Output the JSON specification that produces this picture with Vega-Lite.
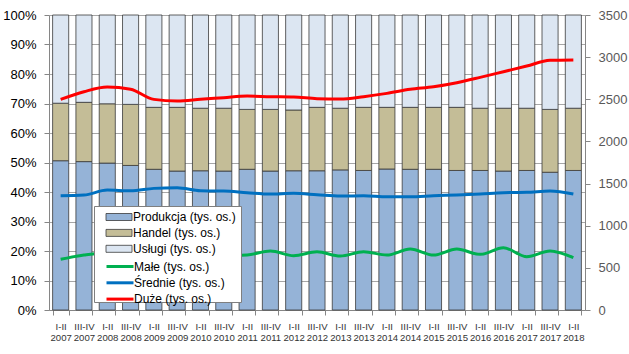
{
  "$schema": "https://vega.github.io/schema/vega-lite/v6.json",
  "width": 536,
  "height": 295,
  "autosize": "none",
  "padding": {"left": 49, "top": 15, "right": 44, "bottom": 44},
  "background": "white",
  "config": {"view": {"stroke": null}, "font": "Liberation Sans"},
  "datasets": {
    "bars": [
      {"p": "I-II 2007", "s": "Produkcja (tys. os.)", "v": 50.6, "r": 1}, {"p": "I-II 2007", "s": "Handel (tys. os.)", "v": 19.5, "r": 2}, {"p": "I-II 2007", "s": "Usługi (tys. os.)", "v": 29.9, "r": 3},
      {"p": "III-IV 2007", "s": "Produkcja (tys. os.)", "v": 50.3, "r": 1}, {"p": "III-IV 2007", "s": "Handel (tys. os.)", "v": 20.1, "r": 2}, {"p": "III-IV 2007", "s": "Usługi (tys. os.)", "v": 29.6, "r": 3},
      {"p": "I-II 2008", "s": "Produkcja (tys. os.)", "v": 49.8, "r": 1}, {"p": "I-II 2008", "s": "Handel (tys. os.)", "v": 20.1, "r": 2}, {"p": "I-II 2008", "s": "Usługi (tys. os.)", "v": 30.1, "r": 3},
      {"p": "III-IV 2008", "s": "Produkcja (tys. os.)", "v": 49.0, "r": 1}, {"p": "III-IV 2008", "s": "Handel (tys. os.)", "v": 20.7, "r": 2}, {"p": "III-IV 2008", "s": "Usługi (tys. os.)", "v": 30.3, "r": 3},
      {"p": "I-II 2009", "s": "Produkcja (tys. os.)", "v": 47.7, "r": 1}, {"p": "I-II 2009", "s": "Handel (tys. os.)", "v": 21.0, "r": 2}, {"p": "I-II 2009", "s": "Usługi (tys. os.)", "v": 31.3, "r": 3},
      {"p": "III-IV 2009", "s": "Produkcja (tys. os.)", "v": 47.1, "r": 1}, {"p": "III-IV 2009", "s": "Handel (tys. os.)", "v": 21.6, "r": 2}, {"p": "III-IV 2009", "s": "Usługi (tys. os.)", "v": 31.3, "r": 3},
      {"p": "I-II 2010", "s": "Produkcja (tys. os.)", "v": 47.2, "r": 1}, {"p": "I-II 2010", "s": "Handel (tys. os.)", "v": 21.2, "r": 2}, {"p": "I-II 2010", "s": "Usługi (tys. os.)", "v": 31.6, "r": 3},
      {"p": "III-IV 2010", "s": "Produkcja (tys. os.)", "v": 47.1, "r": 1}, {"p": "III-IV 2010", "s": "Handel (tys. os.)", "v": 21.3, "r": 2}, {"p": "III-IV 2010", "s": "Usługi (tys. os.)", "v": 31.6, "r": 3},
      {"p": "I-II 2011", "s": "Produkcja (tys. os.)", "v": 47.7, "r": 1}, {"p": "I-II 2011", "s": "Handel (tys. os.)", "v": 20.3, "r": 2}, {"p": "I-II 2011", "s": "Usługi (tys. os.)", "v": 32.0, "r": 3},
      {"p": "III-IV 2011", "s": "Produkcja (tys. os.)", "v": 47.1, "r": 1}, {"p": "III-IV 2011", "s": "Handel (tys. os.)", "v": 20.9, "r": 2}, {"p": "III-IV 2011", "s": "Usługi (tys. os.)", "v": 32.0, "r": 3},
      {"p": "I-II 2012", "s": "Produkcja (tys. os.)", "v": 47.2, "r": 1}, {"p": "I-II 2012", "s": "Handel (tys. os.)", "v": 20.6, "r": 2}, {"p": "I-II 2012", "s": "Usługi (tys. os.)", "v": 32.2, "r": 3},
      {"p": "III-IV 2012", "s": "Produkcja (tys. os.)", "v": 47.2, "r": 1}, {"p": "III-IV 2012", "s": "Handel (tys. os.)", "v": 21.5, "r": 2}, {"p": "III-IV 2012", "s": "Usługi (tys. os.)", "v": 31.3, "r": 3},
      {"p": "I-II 2013", "s": "Produkcja (tys. os.)", "v": 47.5, "r": 1}, {"p": "I-II 2013", "s": "Handel (tys. os.)", "v": 20.9, "r": 2}, {"p": "I-II 2013", "s": "Usługi (tys. os.)", "v": 31.6, "r": 3},
      {"p": "III-IV 2013", "s": "Produkcja (tys. os.)", "v": 47.3, "r": 1}, {"p": "III-IV 2013", "s": "Handel (tys. os.)", "v": 21.4, "r": 2}, {"p": "III-IV 2013", "s": "Usługi (tys. os.)", "v": 31.3, "r": 3},
      {"p": "I-II 2014", "s": "Produkcja (tys. os.)", "v": 47.8, "r": 1}, {"p": "I-II 2014", "s": "Handel (tys. os.)", "v": 20.9, "r": 2}, {"p": "I-II 2014", "s": "Usługi (tys. os.)", "v": 31.3, "r": 3},
      {"p": "III-IV 2014", "s": "Produkcja (tys. os.)", "v": 47.7, "r": 1}, {"p": "III-IV 2014", "s": "Handel (tys. os.)", "v": 21.0, "r": 2}, {"p": "III-IV 2014", "s": "Usługi (tys. os.)", "v": 31.3, "r": 3},
      {"p": "I-II 2015", "s": "Produkcja (tys. os.)", "v": 47.7, "r": 1}, {"p": "I-II 2015", "s": "Handel (tys. os.)", "v": 21.0, "r": 2}, {"p": "I-II 2015", "s": "Usługi (tys. os.)", "v": 31.3, "r": 3},
      {"p": "III-IV 2015", "s": "Produkcja (tys. os.)", "v": 47.3, "r": 1}, {"p": "III-IV 2015", "s": "Handel (tys. os.)", "v": 21.4, "r": 2}, {"p": "III-IV 2015", "s": "Usługi (tys. os.)", "v": 31.3, "r": 3},
      {"p": "I-II 2016", "s": "Produkcja (tys. os.)", "v": 47.3, "r": 1}, {"p": "I-II 2016", "s": "Handel (tys. os.)", "v": 21.1, "r": 2}, {"p": "I-II 2016", "s": "Usługi (tys. os.)", "v": 31.6, "r": 3},
      {"p": "III-IV 2016", "s": "Produkcja (tys. os.)", "v": 47.1, "r": 1}, {"p": "III-IV 2016", "s": "Handel (tys. os.)", "v": 21.3, "r": 2}, {"p": "III-IV 2016", "s": "Usługi (tys. os.)", "v": 31.6, "r": 3},
      {"p": "I-II 2017", "s": "Produkcja (tys. os.)", "v": 47.3, "r": 1}, {"p": "I-II 2017", "s": "Handel (tys. os.)", "v": 21.1, "r": 2}, {"p": "I-II 2017", "s": "Usługi (tys. os.)", "v": 31.6, "r": 3},
      {"p": "III-IV 2017", "s": "Produkcja (tys. os.)", "v": 46.7, "r": 1}, {"p": "III-IV 2017", "s": "Handel (tys. os.)", "v": 21.3, "r": 2}, {"p": "III-IV 2017", "s": "Usługi (tys. os.)", "v": 32.0, "r": 3},
      {"p": "I-II 2018", "s": "Produkcja (tys. os.)", "v": 47.3, "r": 1}, {"p": "I-II 2018", "s": "Handel (tys. os.)", "v": 21.1, "r": 2}, {"p": "I-II 2018", "s": "Usługi (tys. os.)", "v": 31.6, "r": 3}
    ],
    "lines": [
      {"p": "I-II 2007", "s": "Małe (tys. os.)", "v": 601}, {"p": "I-II 2007", "s": "Średnie (tys. os.)", "v": 1356}, {"p": "I-II 2007", "s": "Duże (tys. os.)", "v": 2499},
      {"p": "III-IV 2007", "s": "Małe (tys. os.)", "v": 652}, {"p": "III-IV 2007", "s": "Średnie (tys. os.)", "v": 1364}, {"p": "III-IV 2007", "s": "Duże (tys. os.)", "v": 2590},
      {"p": "I-II 2008", "s": "Małe (tys. os.)", "v": 680}, {"p": "I-II 2008", "s": "Średnie (tys. os.)", "v": 1423}, {"p": "I-II 2008", "s": "Duże (tys. os.)", "v": 2645},
      {"p": "III-IV 2008", "s": "Małe (tys. os.)", "v": 650}, {"p": "III-IV 2008", "s": "Średnie (tys. os.)", "v": 1415}, {"p": "III-IV 2008", "s": "Duże (tys. os.)", "v": 2618},
      {"p": "I-II 2009", "s": "Małe (tys. os.)", "v": 660}, {"p": "I-II 2009", "s": "Średnie (tys. os.)", "v": 1443}, {"p": "I-II 2009", "s": "Duże (tys. os.)", "v": 2499},
      {"p": "III-IV 2009", "s": "Małe (tys. os.)", "v": 640}, {"p": "III-IV 2009", "s": "Średnie (tys. os.)", "v": 1451}, {"p": "III-IV 2009", "s": "Duże (tys. os.)", "v": 2480},
      {"p": "I-II 2010", "s": "Małe (tys. os.)", "v": 660}, {"p": "I-II 2010", "s": "Średnie (tys. os.)", "v": 1415}, {"p": "I-II 2010", "s": "Duże (tys. os.)", "v": 2499},
      {"p": "III-IV 2010", "s": "Małe (tys. os.)", "v": 645}, {"p": "III-IV 2010", "s": "Średnie (tys. os.)", "v": 1411}, {"p": "III-IV 2010", "s": "Duże (tys. os.)", "v": 2519},
      {"p": "I-II 2011", "s": "Małe (tys. os.)", "v": 652}, {"p": "I-II 2011", "s": "Średnie (tys. os.)", "v": 1392}, {"p": "I-II 2011", "s": "Duże (tys. os.)", "v": 2538},
      {"p": "III-IV 2011", "s": "Małe (tys. os.)", "v": 700}, {"p": "III-IV 2011", "s": "Średnie (tys. os.)", "v": 1376}, {"p": "III-IV 2011", "s": "Duże (tys. os.)", "v": 2531},
      {"p": "I-II 2012", "s": "Małe (tys. os.)", "v": 644}, {"p": "I-II 2012", "s": "Średnie (tys. os.)", "v": 1384}, {"p": "I-II 2012", "s": "Duże (tys. os.)", "v": 2527},
      {"p": "III-IV 2012", "s": "Małe (tys. os.)", "v": 690}, {"p": "III-IV 2012", "s": "Średnie (tys. os.)", "v": 1368}, {"p": "III-IV 2012", "s": "Duże (tys. os.)", "v": 2507},
      {"p": "I-II 2013", "s": "Małe (tys. os.)", "v": 640}, {"p": "I-II 2013", "s": "Średnie (tys. os.)", "v": 1352}, {"p": "I-II 2013", "s": "Duże (tys. os.)", "v": 2503},
      {"p": "III-IV 2013", "s": "Małe (tys. os.)", "v": 692}, {"p": "III-IV 2013", "s": "Średnie (tys. os.)", "v": 1356}, {"p": "III-IV 2013", "s": "Duże (tys. os.)", "v": 2531},
      {"p": "I-II 2014", "s": "Małe (tys. os.)", "v": 652}, {"p": "I-II 2014", "s": "Średnie (tys. os.)", "v": 1344}, {"p": "I-II 2014", "s": "Duże (tys. os.)", "v": 2570},
      {"p": "III-IV 2014", "s": "Małe (tys. os.)", "v": 723}, {"p": "III-IV 2014", "s": "Średnie (tys. os.)", "v": 1344}, {"p": "III-IV 2014", "s": "Duże (tys. os.)", "v": 2618},
      {"p": "I-II 2015", "s": "Małe (tys. os.)", "v": 652}, {"p": "I-II 2015", "s": "Średnie (tys. os.)", "v": 1356}, {"p": "I-II 2015", "s": "Duże (tys. os.)", "v": 2649},
      {"p": "III-IV 2015", "s": "Małe (tys. os.)", "v": 723}, {"p": "III-IV 2015", "s": "Średnie (tys. os.)", "v": 1364}, {"p": "III-IV 2015", "s": "Duże (tys. os.)", "v": 2697},
      {"p": "I-II 2016", "s": "Małe (tys. os.)", "v": 660}, {"p": "I-II 2016", "s": "Średnie (tys. os.)", "v": 1376}, {"p": "I-II 2016", "s": "Duże (tys. os.)", "v": 2760},
      {"p": "III-IV 2016", "s": "Małe (tys. os.)", "v": 739}, {"p": "III-IV 2016", "s": "Średnie (tys. os.)", "v": 1392}, {"p": "III-IV 2016", "s": "Duże (tys. os.)", "v": 2827},
      {"p": "I-II 2017", "s": "Małe (tys. os.)", "v": 633}, {"p": "I-II 2017", "s": "Średnie (tys. os.)", "v": 1396}, {"p": "I-II 2017", "s": "Duże (tys. os.)", "v": 2894},
      {"p": "III-IV 2017", "s": "Małe (tys. os.)", "v": 700}, {"p": "III-IV 2017", "s": "Średnie (tys. os.)", "v": 1411}, {"p": "III-IV 2017", "s": "Duże (tys. os.)", "v": 2962},
      {"p": "I-II 2018", "s": "Małe (tys. os.)", "v": 621}, {"p": "I-II 2018", "s": "Średnie (tys. os.)", "v": 1376}, {"p": "I-II 2018", "s": "Duże (tys. os.)", "v": 2966}
    ]
  },
  "layer": [
    {
      "data": {"name": "bars"},
      "mark": {"type": "bar", "stroke": "#3a3a3a", "strokeWidth": 0.8},
      "encoding": {
        "x": {
          "field": "p", "type": "nominal",
          "scale": {"domain": ["I-II 2007", "III-IV 2007", "I-II 2008", "III-IV 2008", "I-II 2009", "III-IV 2009", "I-II 2010", "III-IV 2010", "I-II 2011", "III-IV 2011", "I-II 2012", "III-IV 2012", "I-II 2013", "III-IV 2013", "I-II 2014", "III-IV 2014", "I-II 2015", "III-IV 2015", "I-II 2016", "III-IV 2016", "I-II 2017", "III-IV 2017", "I-II 2018"], "paddingInner": 0.31, "paddingOuter": 0.155},
          "axis": {"title": null, "labelAngle": 0, "labelExpr": "split(datum.label, ' ')", "labelFont": "Liberation Sans", "labelFontSize": 9.6, "labelLineHeight": 11.7, "labelColor": "#333333", "labelPadding": 6, "labelOverlap": false, "labelBound": false, "tickBand": "extent", "tickSize": 5, "tickColor": "#868686", "domainColor": "#868686", "grid": false}
        },
        "y": {
          "field": "v", "type": "quantitative", "stack": "normalize",
          "scale": {"domain": [0, 1]},
          "axis": {"title": null, "values": [0, 0.1, 0.2, 0.3, 0.4, 0.5, 0.6, 0.7, 0.8, 0.9, 1], "format": ".0%", "grid": true, "gridColor": "#A6A6A6", "gridWidth": 1, "domainColor": "#868686", "tickColor": "#868686", "tickSize": 5, "labelPadding": 8, "labelFont": "Liberation Sans", "labelFontSize": 13, "labelColor": "#000000"}
        },
        "color": {
          "field": "s", "type": "nominal",
          "scale": {"domain": ["Produkcja (tys. os.)", "Handel (tys. os.)", "Usługi (tys. os.)"], "range": ["#95B3D7", "#C4BD97", "#DCE6F2"]},
          "legend": {
            "title": ["\u00a0", "\u00a0", "\u00a0"], "titleOrient": "bottom", "titleFontSize": 12, "titleLineHeight": 14, "titlePadding": 3,
            "orient": "none", "legendX": 45, "legendY": 191,
            "fillColor": "white", "strokeColor": "#7F7F7F", "padding": 5,
            "labelFont": "Liberation Sans", "labelFontSize": 12, "labelColor": "#000000", "labelLimit": 200,
            "rowPadding": 3.9, "symbolSize": 100, "labelOffset": 22,
            "symbolType": "M0.2,-0.7H5.4V0.7H0.2Z", "symbolStrokeColor": "#3a3a3a", "symbolStrokeWidth": 0.8
          }
        },
        "order": {"field": "r", "type": "quantitative"}
      }
    },
    {
      "data": {"name": "lines"},
      "mark": {"type": "line", "interpolate": "monotone", "strokeWidth": 3},
      "encoding": {
        "x": {"field": "p", "type": "nominal"},
        "y": {
          "field": "v", "type": "quantitative",
          "scale": {"domain": [0, 3500]},
          "axis": {"orient": "right", "title": null, "format": "d", "values": [0, 500, 1000, 1500, 2000, 2500, 3000, 3500], "grid": false, "domainColor": "#868686", "tickColor": "#868686", "tickSize": 5, "labelPadding": 8, "labelFont": "Liberation Sans", "labelFontSize": 13, "labelColor": "#595959"}
        },
        "stroke": {
          "field": "s", "type": "nominal",
          "scale": {"domain": ["Małe (tys. os.)", "Średnie (tys. os.)", "Duże (tys. os.)"], "range": ["#00B050", "#0070C0", "#FF0000"]},
          "legend": {
            "title": null, "orient": "none", "legendX": 45, "legendY": 240,
            "padding": 5,
            "labelFont": "Liberation Sans", "labelFontSize": 12, "labelColor": "#000000", "labelLimit": 200,
            "rowPadding": 3.3, "symbolSize": 100, "labelOffset": 22,
            "symbolType": "M0.2,0H5.6", "symbolStrokeWidth": 3
          }
        }
      }
    }
  ],
  "resolve": {"scale": {"y": "independent"}}
}
